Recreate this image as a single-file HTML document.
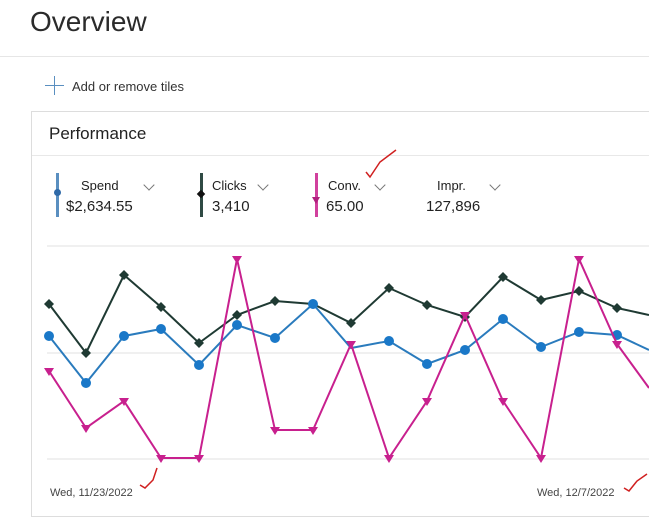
<!DOCTYPE html>
<html><head><style>
body{margin:0;width:649px;height:516px;background:#fff;font-family:"Liberation Sans",sans-serif;overflow:hidden;position:relative;color:#222}
.a{position:absolute;white-space:nowrap}
.c{position:absolute;width:7px;height:7px;border-left:1px solid #777;border-bottom:1px solid #777;transform:rotate(-45deg)}
</style></head><body>
<div class="a" style="left:30px;top:6px;font-size:28px;color:#2b2b2b">Overview</div>
<div class="a" style="left:0;top:56px;width:649px;border-top:1px solid #e6e6e6"></div>
<div class="a" style="left:45px;top:85px;width:19px;border-top:1.5px solid #5a8fc0"></div>
<div class="a" style="left:54px;top:76px;height:19px;border-left:1.5px solid #5a8fc0"></div>
<div class="a" style="left:72px;top:79px;font-size:13px;color:#333">Add or remove tiles</div>
<div class="a" style="left:31px;top:111px;width:640px;height:404px;border:1px solid #ddd"></div>
<div class="a" style="left:32px;top:155px;width:620px;border-top:1px solid #e8e8e8"></div>
<div class="a" style="left:49px;top:124px;font-size:17px;color:#222">Performance</div>
<div class="a" style="left:56px;top:173px;width:3px;height:44px;background:#5a8fc0"></div>
<div class="a" style="left:54px;top:189px;width:7px;height:7px;border-radius:50%;background:#2f6aa8"></div>
<div class="a" style="left:81px;top:178px;font-size:13px">Spend</div>
<div class="a" style="left:66px;top:198px;font-size:15px">$2,634.55</div>
<div class="c" style="left:145px;top:181px"></div>
<div class="a" style="left:200px;top:173px;width:3px;height:44px;background:#2f4a44"></div>
<div class="a" style="left:198px;top:191px;width:6px;height:6px;transform:rotate(45deg);background:#111"></div>
<div class="a" style="left:212px;top:178px;font-size:13px">Clicks</div>
<div class="a" style="left:212px;top:198px;font-size:15px">3,410</div>
<div class="c" style="left:259px;top:181px"></div>
<div class="a" style="left:315px;top:173px;width:3px;height:44px;background:#d1409d"></div>
<div class="a" style="left:312px;top:197px;width:0;height:0;border-left:4px solid transparent;border-right:4px solid transparent;border-top:7px solid #b0207e"></div>
<div class="a" style="left:328px;top:178px;font-size:13px">Conv.</div>
<div class="a" style="left:326px;top:198px;font-size:15px">65.00</div>
<div class="c" style="left:376px;top:181px"></div>
<div class="a" style="left:437px;top:178px;font-size:13px">Impr.</div>
<div class="a" style="left:426px;top:198px;font-size:15px">127,896</div>
<div class="c" style="left:491px;top:181px"></div>
<svg class="a" style="left:0;top:0" width="649" height="516">
<g stroke="#e2e2e2"><line x1="47" y1="246" x2="649" y2="246"/><line x1="47" y1="353" x2="649" y2="353"/><line x1="47" y1="459" x2="649" y2="459"/></g>
<polyline fill="none" stroke="#1f3a33" stroke-width="2" points="49,304 86,353 124,275 161,307 199,343 237,315 275,301 313,304 351,323 389,288 427,305 465,317 503,277 541,300 579,291 617,308 649,315"/>
<g fill="#1f3a33">
<path d="M49,299l5,5-5,5-5-5z"/><path d="M86,348l5,5-5,5-5-5z"/><path d="M124,270l5,5-5,5-5-5z"/><path d="M161,302l5,5-5,5-5-5z"/><path d="M199,338l5,5-5,5-5-5z"/><path d="M237,310l5,5-5,5-5-5z"/><path d="M275,296l5,5-5,5-5-5z"/><path d="M313,299l5,5-5,5-5-5z"/><path d="M351,318l5,5-5,5-5-5z"/><path d="M389,283l5,5-5,5-5-5z"/><path d="M427,300l5,5-5,5-5-5z"/><path d="M465,312l5,5-5,5-5-5z"/><path d="M503,272l5,5-5,5-5-5z"/><path d="M541,295l5,5-5,5-5-5z"/><path d="M579,286l5,5-5,5-5-5z"/><path d="M617,303l5,5-5,5-5-5z"/>
</g>
<polyline fill="none" stroke="#2a7bbd" stroke-width="2" points="49,336 86,383 124,336 161,329 199,365 237,325 275,338 313,304 351,348 389,341 427,364 465,350 503,319 541,347 579,332 617,335 649,350"/>
<g fill="#1a78c8">
<circle cx="49" cy="336" r="5"/><circle cx="86" cy="383" r="5"/><circle cx="124" cy="336" r="5"/><circle cx="161" cy="329" r="5"/><circle cx="199" cy="365" r="5"/><circle cx="237" cy="325" r="5"/><circle cx="275" cy="338" r="5"/><circle cx="313" cy="304" r="5"/><circle cx="389" cy="341" r="5"/><circle cx="427" cy="364" r="5"/><circle cx="465" cy="350" r="5"/><circle cx="503" cy="319" r="5"/><circle cx="541" cy="347" r="5"/><circle cx="579" cy="332" r="5"/><circle cx="617" cy="335" r="5"/>
</g>
<polyline fill="none" stroke="#c8208e" stroke-width="2" points="49,371 86,428 124,401 161,458 199,458 237,259 275,430 313,430 351,344 389,458 427,401 465,315 503,401 541,458 579,259 617,344 649,388"/>
<g fill="#c8208e">
<path d="M44,368h10l-5,8z"/><path d="M81,425h10l-5,8z"/><path d="M119,398h10l-5,8z"/><path d="M156,455h10l-5,8z"/><path d="M194,455h10l-5,8z"/><path d="M232,256h10l-5,8z"/><path d="M270,427h10l-5,8z"/><path d="M308,427h10l-5,8z"/><path d="M346,341h10l-5,8z"/><path d="M384,455h10l-5,8z"/><path d="M422,398h10l-5,8z"/><path d="M460,312h10l-5,8z"/><path d="M498,398h10l-5,8z"/><path d="M536,455h10l-5,8z"/><path d="M574,256h10l-5,8z"/><path d="M612,341h10l-5,8z"/>
</g>
<path d="M366,172l4,5 10-15 16-12" fill="none" stroke="#d02020" stroke-width="1.5"/>
<path d="M140,485l5,3 8-8 4-12" fill="none" stroke="#d02020" stroke-width="1.5"/>
<path d="M624,488l5,3 8-10 10-7" fill="none" stroke="#d02020" stroke-width="1.5"/>
</svg>
<div class="a" style="left:50px;top:487px;font-size:11px;color:#444">Wed, 11/23/2022</div>
<div class="a" style="left:537px;top:487px;font-size:11px;color:#444">Wed, 12/7/2022</div>
</body></html>
